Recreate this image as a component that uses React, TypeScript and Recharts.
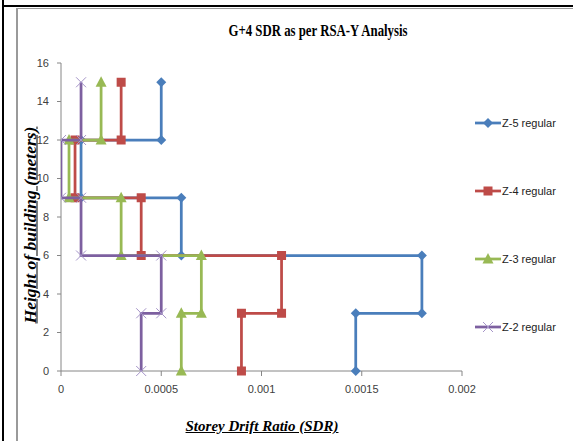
import React from 'react';
import { ScatterChart, Scatter, XAxis, YAxis, Legend } from 'recharts';

// storey heights (m) - same pattern for each zone
const heights = [0, 3, 3, 6, 6, 9, 9, 12, 12, 15];

// storey drift ratio per zone
const z5 = [0.00147, 0.00147, 0.0018, 0.0018, 0.0006, 0.0006, 0.0001, 0.0001, 0.0005, 0.0005];
const z4 = [0.0009, 0.0009, 0.0011, 0.0011, 0.0004, 0.0004, 0.00007, 0.00007, 0.0003, 0.0003];
const z3 = [0.0006, 0.0006, 0.0007, 0.0007, 0.0003, 0.0003, 0.00004, 0.00004, 0.0002, 0.0002];
const z2 = [0.0004, 0.0004, 0.0005, 0.0005, 0.0001, 0.0001, 0, 0, 0.0001, 0.0001];

const xTicks = [0, 0.0005, 0.001, 0.0015, 0.002];
const yTicks = [0, 2, 4, 6, 8, 10, 12, 14, 16];

const series = [
  { name: 'Z-5 regular', values: z5, color: '#4A7EBB', marker: 'diamond' },
  { name: 'Z-4 regular', values: z4, color: '#BE4B48', marker: 'square' },
  { name: 'Z-3 regular', values: z3, color: '#98B954', marker: 'triangle' },
  { name: 'Z-2 regular', values: z2, color: '#7D60A0', marker: 'x' },
];

const toPoints = (values: number[]) => values.map((sdr, i) => ({ sdr, h: heights[i] }));

const Marker = ({ kind, cx, cy, color }: any) => {
  if (cx == null || cy == null) return null;
  switch (kind) {
    case 'diamond':
      return <path d={`M${cx},${cy - 5} L${cx + 5},${cy} L${cx},${cy + 5} L${cx - 5},${cy} Z`} fill={color} />;
    case 'square':
      return <rect x={cx - 4.5} y={cy - 4.5} width={9} height={9} fill={color} />;
    case 'triangle':
      return <path d={`M${cx},${cy - 6} L${cx + 5.5},${cy + 4.5} L${cx - 5.5},${cy + 4.5} Z`} fill={color} />;
    default:
      return (
        <path
          d={`M${cx - 5},${cy - 5} L${cx + 5},${cy + 5} M${cx + 5},${cy - 5} L${cx - 5},${cy + 5}`}
          stroke="#A594C8"
          strokeWidth={1}
          fill="none"
        />
      );
  }
};

const tickStyle = { fontFamily: 'Liberation Sans, Arial, sans-serif', fontSize: 11, fill: '#404040' };

const LegendContent = () => (
  <div style={{ width: 100, fontFamily: 'Liberation Sans, Arial, sans-serif', fontSize: 11, color: '#222' }}>
    {series.map((s) => (
      <div key={s.name} style={{ display: 'flex', alignItems: 'center', height: 20, marginBottom: 48 }}>
        <svg width={28} height={14}>
          <line x1={1} y1={7} x2={27} y2={7} stroke={s.color} strokeWidth={2.75} />
          <Marker kind={s.marker} cx={14} cy={7} color={s.color} />
        </svg>
        <span style={{ marginLeft: 0 }}>{s.name}</span>
      </div>
    ))}
  </div>
);

const App: React.FC = () => {
  return (
    <div style={{ position: 'absolute', left: 0, top: 0, width: 573, height: 441, background: '#fff', overflow: 'hidden' }}>
      {/* page frame */}
      <div style={{ position: 'absolute', left: 2, top: 0, width: 2, height: 441, background: '#000' }} />
      <div style={{ position: 'absolute', left: 2, top: 5, width: 571, height: 2, background: '#000' }} />
      <div
        style={{
          position: 'absolute',
          left: 16,
          top: 8,
          width: 555,
          height: 440,
          borderLeft: '2px solid #9a9a9a',
          borderTop: '1px solid #9a9a9a',
          borderRight: '2px solid #9a9a9a',
        }}
      />

      <div style={{ position: 'absolute', left: 0, top: 0 }}>
        <ScatterChart width={573} height={441} margin={{ top: 63, right: 111, bottom: 0, left: 0 }}>
          <XAxis
            type="number"
            dataKey="sdr"
            domain={[0, 0.002]}
            ticks={xTicks}
            height={70}
            tickSize={5}
            tickMargin={9}
            tick={tickStyle}
            axisLine={{ stroke: '#868686' }}
            tickLine={{ stroke: '#868686' }}
            allowDataOverflow
          />
          <YAxis
            type="number"
            dataKey="h"
            domain={[0, 16]}
            ticks={yTicks}
            width={61}
            tickSize={4}
            tickMargin={8}
            tick={tickStyle}
            axisLine={{ stroke: '#868686' }}
            tickLine={{ stroke: '#868686' }}
          />
          <Legend
            content={<LegendContent />}
            wrapperStyle={{ left: 474, top: 113, width: 0, height: 0, overflow: 'visible' }}
          />
          {series.map((s) => (
            <Scatter
              key={s.name}
              name={s.name}
              data={toPoints(s.values)}
              fill={s.color}
              line={{ stroke: s.color, strokeWidth: 2.75 }}
              lineType="joint"
              shape={(p: any) => <Marker kind={s.marker} cx={p.cx} cy={p.cy} color={s.color} />}
              isAnimationActive={false}
            />
          ))}
        </ScatterChart>
      </div>

      {/* title and axis titles */}
      <div
        style={{
          position: 'absolute',
          left: 318,
          top: 22,
          transform: 'translateX(-50%) scaleX(0.8)',
          whiteSpace: 'nowrap',
          fontFamily: 'Liberation Serif, Times New Roman, serif',
          fontWeight: 'bold',
          fontSize: 16,
        }}
      >
        G+4 SDR as per RSA-Y Analysis
      </div>
      <div
        style={{
          position: 'absolute',
          left: 262,
          top: 418,
          transform: 'translateX(-50%)',
          whiteSpace: 'nowrap',
          fontFamily: 'Liberation Serif, Times New Roman, serif',
          fontWeight: 'bold',
          fontStyle: 'italic',
          fontSize: 15,
          textDecoration: 'underline',
        }}
      >
        Storey Drift Ratio (SDR)
      </div>
      <div
        style={{
          position: 'absolute',
          left: 30,
          top: 225,
          transform: 'translate(-50%, -50%) rotate(-90deg)',
          whiteSpace: 'nowrap',
          fontFamily: 'Liberation Serif, Times New Roman, serif',
          fontWeight: 'bold',
          fontStyle: 'italic',
          fontSize: 17.5,
          textDecoration: 'underline',
        }}
      >
        Height of building (meters)
      </div>
    </div>
  );
};

export default App;
